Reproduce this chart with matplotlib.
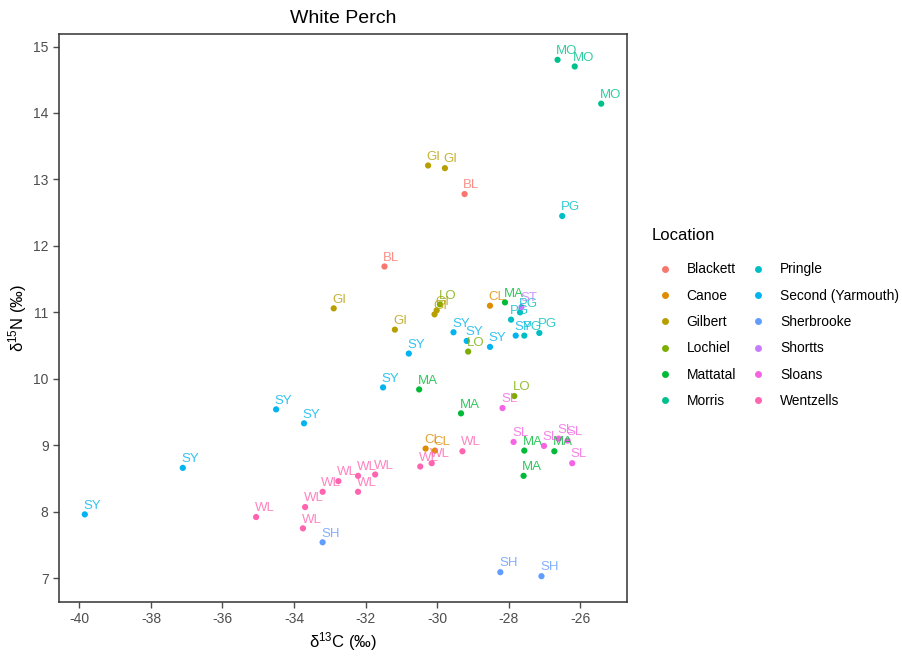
import matplotlib.pyplot as plt
from matplotlib.lines import Line2D

plt.rcParams["font.family"] = ["Liberation Sans", "DejaVu Sans"]
plt.rcParams["mathtext.default"] = "regular"
plt.rcParams["axes.unicode_minus"] = False

LOCATIONS = ["Blackett", "Canoe", "Gilbert", "Lochiel", "Mattatal", "Morris",
             "Pringle", "Second (Yarmouth)", "Sherbrooke", "Shortts", "Sloans", "Wentzells"]
CODES = ["BL", "CL", "GI", "LO", "MA", "MO", "PG", "SY", "SH", "ST", "SL", "WL"]
COLORS = ["#F8766D", "#DE8C00", "#B79F00", "#7CAE00", "#00BA38", "#00C08B",
          "#00BFC4", "#00B4F0", "#619CFF", "#C77CFF", "#F564E3", "#FF64B0"]

location = (["Blackett"] * 2 + ["Canoe"] * 3 + ["Gilbert"] * 6 + ["Lochiel"] * 3
            + ["Mattatal"] * 6 + ["Morris"] * 3 + ["Pringle"] * 5
            + ["Second (Yarmouth)"] * 10 + ["Sherbrooke"] * 3 + ["Shortts"]
            + ["Sloans"] * 6 + ["Wentzells"] * 11)
d13c = [-29.23, -31.47,
        -28.52, -30.32, -30.06,
        -30.25, -29.78, -32.89, -31.18, -30.07, -30.01,
        -29.92, -29.13, -27.84,
        -28.10, -30.50, -29.33, -27.56, -26.72, -27.58,
        -26.63, -26.15, -25.41,
        -26.50, -27.68, -27.93, -27.56, -27.14,
        -39.85, -37.11, -34.50, -33.72, -31.51, -30.79, -29.54, -29.17, -28.52, -27.80,
        -33.20, -28.23, -27.08,
        -27.64,
        -28.17, -27.86, -27.01, -26.60, -26.35, -26.22,
        -35.06, -33.75, -33.69, -33.20, -32.76, -32.21, -31.73, -32.21, -30.47, -30.15, -29.29]
d15n = [12.78, 11.69,
        11.10, 8.95, 8.92,
        13.21, 13.17, 11.06, 10.74, 10.97, 11.03,
        11.12, 10.41, 9.74,
        11.15, 9.84, 9.48, 8.92, 8.91, 8.54,
        14.80, 14.70, 14.14,
        12.45, 11.00, 10.89, 10.65, 10.69,
        7.96, 8.66, 9.54, 9.33, 9.87, 10.38, 10.70, 10.57, 10.48, 10.65,
        7.54, 7.09, 7.03,
        11.08,
        9.56, 9.05, 8.99, 9.10, 9.07, 8.73,
        7.92, 7.75, 8.07, 8.30, 8.46, 8.54, 8.56, 8.30, 8.68, 8.73, 8.91]

color_of = dict(zip(LOCATIONS, COLORS))
code_of = dict(zip(LOCATIONS, CODES))

fig = plt.figure(figsize=(9.03, 6.57), dpi=100)
ax = fig.add_axes([59 / 903, 1 - 602 / 657, 568 / 903, 568 / 657])

cols = [color_of[loc] for loc in location]
ax.scatter(d13c, d15n, s=20, c=cols, linewidths=0, zorder=2)
for x, y, loc in zip(d13c, d15n, location):
    ax.annotate(code_of[loc], (x, y), xytext=(-1, 2), textcoords="offset points",
                ha="left", va="bottom", fontsize=9.5, color=color_of[loc], alpha=0.8, zorder=3)

xr = max(d13c) - min(d13c)
yr = max(d15n) - min(d15n)
ax.set_xlim(min(d13c) - 0.05 * xr, max(d13c) + 0.05 * xr)
ax.set_ylim(min(d15n) - 0.05 * yr, max(d15n) + 0.05 * yr)
ax.set_xticks(range(-40, -25, 2))
ax.set_yticks(range(7, 16))
ax.tick_params(colors="#4D4D4D", labelsize=10, length=4, width=1, labelcolor="#4D4D4D")
for side in ax.spines.values():
    side.set_color("#333333")
    side.set_linewidth(1.1)

ax.set_xlabel("δ$^{13}$C (‰)", fontsize=12, labelpad=3)
ax.set_ylabel("δ$^{15}$N (‰)", fontsize=12, labelpad=3)
ax.set_title("White Perch", fontsize=14, pad=8)

# legend: title placed on its own so the gap to the keys matches
fig.text(652 / 903, 1 - 236 / 657, "Location", fontsize=12, ha="left", va="center")
handles = [Line2D([], [], marker="o", linestyle="", markersize=5, markeredgewidth=0,
                  color=c) for c in COLORS]
fig.legend(handles, LOCATIONS, loc="upper left", bbox_to_anchor=(647 / 903, 1 - 255.5 / 657),
           ncol=2, frameon=False, fontsize=9.9, handlelength=1.65, handletextpad=0.74,
           columnspacing=0.78, labelspacing=0.9, borderpad=0)

fig.savefig("out.png")
